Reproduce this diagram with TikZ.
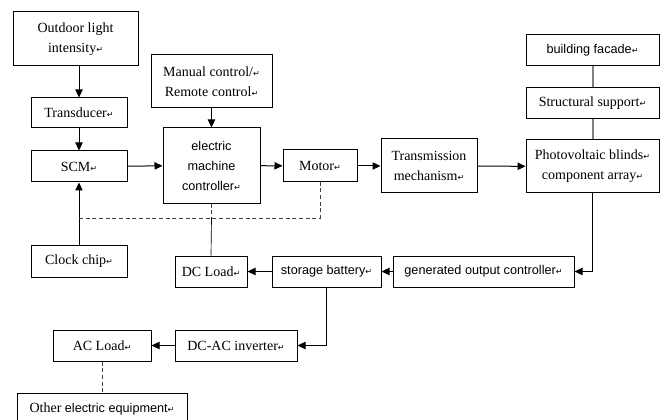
\documentclass[tikz,border=0pt]{standalone}
\usepackage{fontspec}
\setmainfont{Liberation Serif}
\newfontfamily\arialfont{Liberation Sans}
\newfontfamily\symfont{DejaVu Sans}
\usetikzlibrary{arrows.meta}
\newdimen\px \px=0.75pt
\newcommand{\ret}{{\symfont\fontsize{6}{6}\selectfont ↵}}

\begin{document}
\begin{tikzpicture}[
x=0.75pt, y=-0.75pt,
>={Triangle[length=6pt,width=5.5pt]},
line width=0.75pt,
every node/.style={font=\fontsize{10.5}{15}\selectfont},
block/.style={draw, align=center, inner sep=0pt},
wh/.style 2 args={minimum width=#1\px, minimum height=#2\px},
sanstext/.style={font=\arialfont\fontsize{9.5}{15}\selectfont},
dashline/.style={dash pattern=on 3pt off 2pt, draw=black!75},
graylink/.style={draw=black!50, line width=1.5pt}
]
\useasboundingbox (0,0) rectangle (666,420);

% sensing side
\node[block,wh={125}{54}] (light) at (75.5,39) {Outdoor light\\intensity\ret};
\node[block,wh={96}{30}] (trans) at (79,113) {Transducer\ret};
\node[block,wh={96}{31}] (scm) at (79,166.5) {SCM\ret};
\node[block,wh={96}{32}] (clock) at (79,261) {Clock chip\ret};

% control and drive
\node[block,wh={121}{53}] (manual) at (211.5,81.5) {Manual control/\ret\\Remote control\ret};
\node[block,sanstext,wh={97}{75}] (emc) at (211.5,165.5) {electric\\machine\\controller\ret};
\node[block,wh={74}{32}] (motor) at (320,166) {Motor\ret};
\node[block,wh={96}{54}] (transm) at (429,166) {Transmission\\mechanism\ret};

% facade
\node[block,sanstext,wh={133}{31}] (facade) at (592.5,50.5) {building facade\ret};
\node[block,wh={133}{31}] (support) at (592.5,103.5) {Structural support\ret};
\node[block,wh={133}{53}] (pv) at (592.5,166.5) {Photovoltaic blinds\ret\\component array\ret};

% power side
\node[block,sanstext,wh={181}{31}] (goc) at (483.5,271.5) {generated output controller\ret};
\node[block,sanstext,wh={109}{31}] (battery) at (326.5,271.5) {storage battery\ret};
\node[block,wh={72}{31}] (dcload) at (211,271.5) {DC Load\ret};
\node[block,wh={122}{31}] (inverter) at (236,345.5) {DC-AC inverter\ret};
\node[block,wh={98}{31}] (acload) at (102,345.5) {AC Load\ret};
\node[block,wh={170}{32}] (other) at (102,409) {Other {\arialfont\fontsize{9.5}{15}\selectfont electric equipment}\ret};

\coordinate (bus) at (0,218);

\draw[->] (light.south -| trans.north) -- (trans.north);
\draw[->] (trans) -- (scm);
\draw[->] (clock) -- (scm);
\draw[->] (scm) -- (emc);
\draw[->] (manual) -- (emc);
\draw[->] (emc) -- (motor);
\draw[->] (motor) -- (transm);
\draw[->] (transm) -- (pv);

\draw[graylink] (facade) -- (support) -- (pv);

\draw[->] (pv.south) |- (goc.east);
\draw[->] (goc) -- (battery);
\draw[->] (battery) -- (dcload);
\draw[->] (battery.south) |- (inverter.east);
\draw[->] (inverter) -- (acload);
\draw[dashline] (acload) -- (other);

% dashed links
\draw[dashline] (scm |- bus) -- (motor |- bus) -- (motor.south);
\draw[dashline] (emc.south) -- (emc |- bus);
\draw[line width=0.5pt] (emc |- bus) -- (dcload.north);

\end{tikzpicture}
\end{document}
